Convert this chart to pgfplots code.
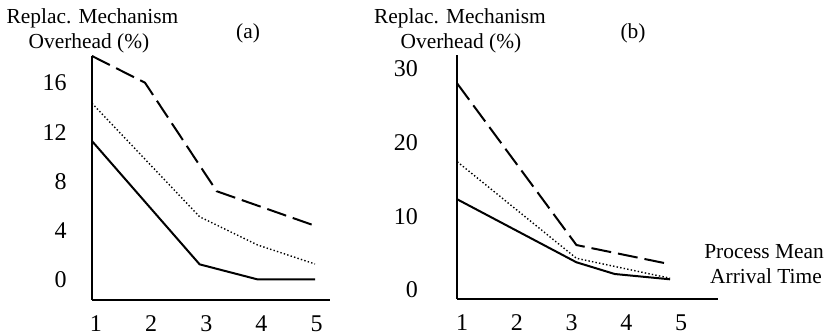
\documentclass[border=0pt]{standalone}
\usepackage{fontspec}
\setmainfont{Liberation Serif}
\usepackage{pgfplots}
\pgfplotsset{compat=1.18}
\begin{document}
\fontsize{10.7}{12.8}\selectfont
\begin{tikzpicture}
\useasboundingbox (0,0) rectangle (412.5pt,-167.5pt);
\pgfplotsset{
  panel/.style={
    axis lines=left,
    axis line style={-, line width=1pt},
    major tick length=0pt,
    clip=false,
    anchor=south west,
    /pgf/number format/assume math mode=true,
    ticklabel style={font=\fontsize{12}{14}\selectfont, inner sep=0pt},
    xtick={1,2,3,4,5},
    xticklabel style={anchor=north, yshift=-7.6pt},
  },
  solidl/.style={black, line width=1pt},
  dashedl/.style={black, line width=1pt, dash pattern=on 10pt off 3.5pt},
  dottedl/.style={black, line width=0.7pt, dash pattern=on 0.7pt off 1.1pt},
}
% Panel (a)
\begin{axis}[panel, at={(46pt,-150pt)}, x=27.6pt, y=6.165pt,
  xmin=0.93, xmax=5.24, ymin=-1.62, ymax=18.17,
  ytick={0,4,8,12,16},
  yticklabel style={anchor=east, xshift=-12.5pt}]
\addplot[dashedl] coordinates {(0.93,18.17) (1.89,16.0) (3.19,7.2) (4.97,4.4)};
\addplot[dottedl] coordinates {(0.93,14.33) (2.88,5.13) (3.93,2.84) (4.97,1.3)};
\addplot[solidl] coordinates {(0.93,11.27) (2.88,1.27) (3.93,0.05) (4.97,0.05)};
\end{axis}
% Panel (b)
\begin{axis}[panel, at={(228.65pt,-149.5pt)}, x=27.375pt, y=3.685pt,
  xmin=0.914, xmax=5.68, ymin=-1.22, ymax=31.9,
  ytick={0,10,20,30},
  yticklabel style={anchor=east, xshift=-19.5pt}]
\addplot[dashedl] coordinates {(0.914,28.0) (3.09,6.1) (4.80,3.5)};
\addplot[dottedl] coordinates {(0.914,17.4) (3.09,4.3) (4.80,1.6)};
\addplot[solidl] coordinates {(0.914,12.3) (3.09,3.76) (3.79,2.17) (4.80,1.45)};
\end{axis}
\node[anchor=base, inner sep=0pt] at (46.25pt,-12pt) {Replac. Mechanism};
\node[anchor=base, inner sep=0pt] at (44.5pt,-24.15pt) {Overhead (\%)};
\node[anchor=base, inner sep=0pt] at (124pt,-19.5pt) {(a)};
\node[anchor=base, inner sep=0pt] at (230pt,-12pt) {Replac. Mechanism};
\node[anchor=base, inner sep=0pt] at (230.5pt,-24.15pt) {Overhead (\%)};
\node[anchor=base, inner sep=0pt] at (316.5pt,-19.5pt) {(b)};
\node[anchor=base, inner sep=0pt] at (382pt,-129.5pt) {Process Mean};
\node[anchor=base, inner sep=0pt] at (383pt,-142pt) {Arrival Time};
\end{tikzpicture}
\end{document}
